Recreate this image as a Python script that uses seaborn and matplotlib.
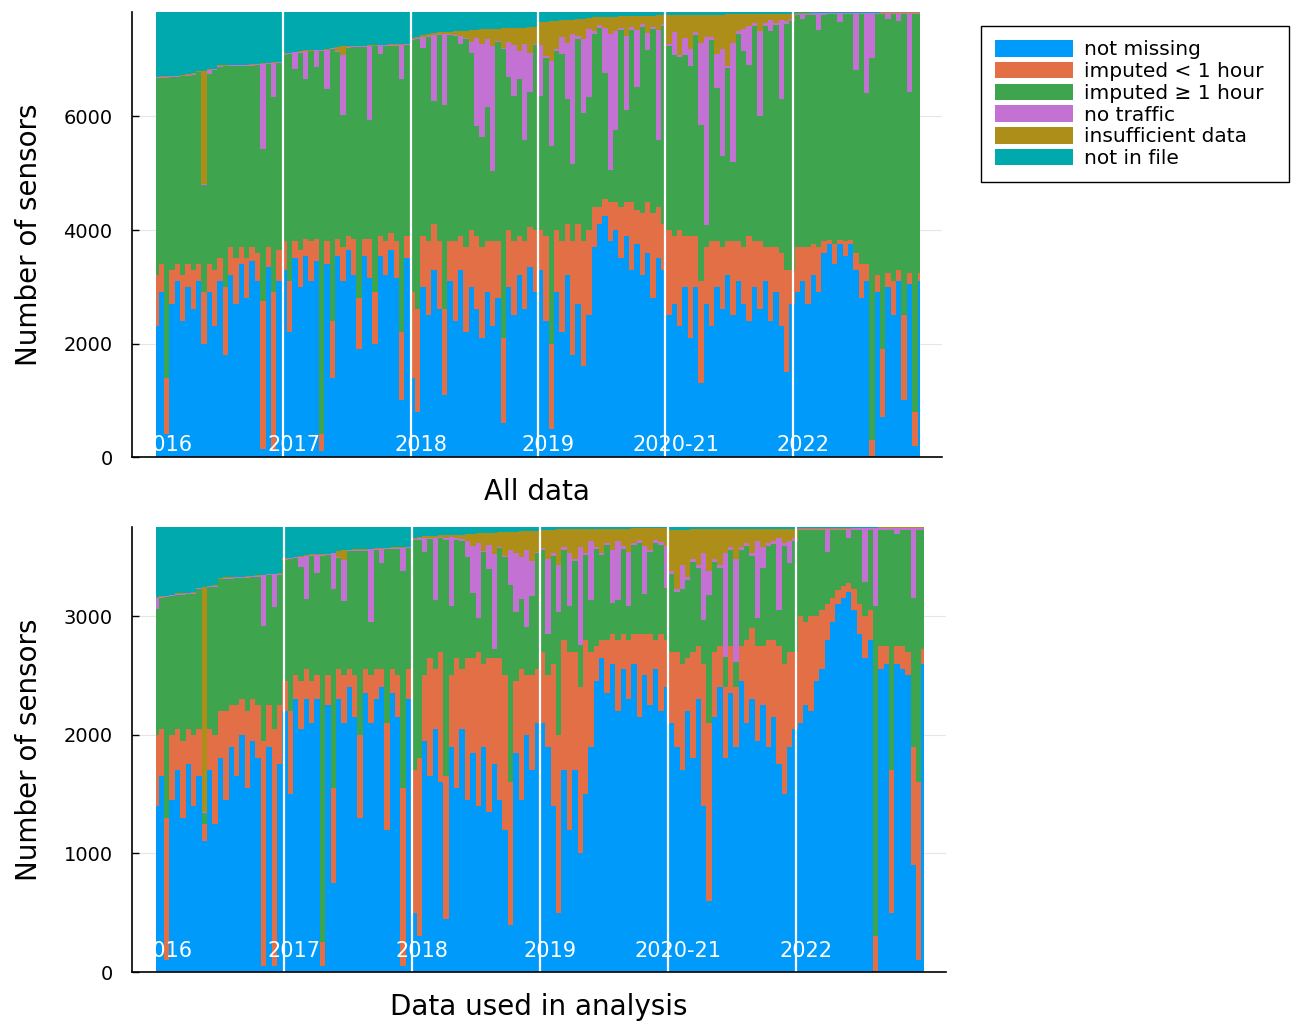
import numpy as np
import matplotlib
matplotlib.use("Agg")
import matplotlib.pyplot as plt
import seaborn as sns
from matplotlib.patches import Patch, Rectangle

sns.set_style("white")
plt.rcParams['font.family'] = ['DejaVu Sans']
plt.rcParams.update({'text.color': 'black', 'axes.labelcolor': 'black',
                     'xtick.color': 'black', 'ytick.color': 'black'})

periods = ["2016", "2017", "2018", "2019", "2020-21", "2022"]
categories = ["not missing", "imputed < 1 hour", "imputed ≥ 1 hour",
              "no traffic", "insufficient data", "not in file"]
colors = ["#009AFA", "#E36F47", "#3EA44E", "#C371D2", "#AC8E18", "#00A9AD"]

# ---- All data (24 readings per period) ----
n_sensors_all = 7840
all_not_missing = [
    2300, 2900, 400, 2700, 3100, 2400, 3000, 2600, 3100, 2000, 2900, 2300, 3100, 1800, 3200, 2700, 3400, 2800, 3450, 3100, 150, 3350, 100, 3100,
    3300, 2200, 3500, 3000, 3550, 3100, 3450, 100, 3400, 1400, 3550, 3100, 3650, 3200, 1900, 3550, 3150, 2000, 3550, 3200, 3650, 3150, 1000, 3500,
    1400, 800, 3000, 2500, 3300, 2600, 1100, 3100, 2400, 3300, 2200, 3000, 2600, 2100, 2900, 2300, 2800, 600, 3000, 2500, 3200, 2600, 3350, 2900,
    3300, 2400, 500, 2900, 2200, 3200, 1800, 2700, 1600, 2500, 3700, 4100, 4250, 3800, 4000, 3500, 3900, 3300, 3750, 3200, 3600, 2800, 3500, 3300,
    2500, 2700, 2300, 3000, 2100, 3000, 1300, 2700, 2300, 3000, 2600, 3200, 2500, 3100, 2700, 2400, 3000, 2600, 3100, 2400, 2900, 2300, 1500, 2700,
    2900, 3100, 2700, 3200, 2900, 3600, 3750, 3400, 3750, 3550, 3750, 3300, 2800, 3100, 0, 2900, 700, 3000, 2500, 3100, 1000, 3050, 200, 3100]
all_imputed_short = [
    900, 500, 1000, 600, 300, 800, 400, 700, 300, 900, 500, 1000, 400, 1200, 500, 800, 300, 700, 250, 500, 2600, 350, 2800, 550,
    500, 900, 300, 650, 300, 700, 400, 300, 400, 1000, 300, 600, 250, 650, 900, 300, 700, 900, 350, 600, 300, 650, 1200, 400,
    1500, 1800, 900, 1300, 800, 1200, 1500, 700, 1400, 600, 1500, 1000, 1300, 1600, 900, 1500, 1000, 1500, 1000, 1300, 700, 1200, 700, 1100,
    700, 1500, 1500, 1100, 1600, 900, 2000, 1400, 2200, 1500, 700, 300, 300, 700, 500, 900, 600, 1200, 600, 1100, 900, 1500, 900, 800,
    1500, 1200, 1700, 900, 1800, 900, 1800, 1000, 1500, 800, 1100, 600, 1300, 700, 1000, 1500, 800, 1200, 600, 1300, 800, 1300, 1800, 600,
    800, 600, 1000, 550, 800, 200, 80, 350, 80, 250, 80, 300, 600, 300, 300, 300, 1200, 250, 600, 200, 1500, 200, 600, 150]
all_no_traffic = [
    20, 15, 15, 15, 15, 15, 15, 15, 15, 15, 80, 15, 15, 15, 15, 15, 15, 15, 15, 15, 1500, 15, 600, 15,
    15, 15, 300, 15, 500, 15, 300, 15, 700, 15, 15, 1050, 15, 15, 15, 15, 1300, 15, 150, 15, 15, 15, 600, 15,
    20, 20, 200, 20, 1150, 20, 1250, 20, 20, 150, 20, 200, 1550, 1650, 1200, 2200, 20, 20, 600, 900, 500, 1700, 700, 20,
    900, 40, 1500, 40, 300, 1000, 2300, 40, 1300, 1200, 40, 40, 800, 2400, 1750, 40, 1300, 40, 1000, 40, 300, 40, 1950, 40,
    50, 400, 50, 300, 300, 50, 1450, 3300, 50, 600, 1900, 50, 2100, 50, 400, 700, 50, 1500, 50, 200, 50, 1400, 50, 50,
    20, 100, 20, 20, 300, 20, 20, 20, 150, 20, 20, 1000, 20, 1400, 800, 20, 20, 100, 20, 150, 20, 1400, 20, 20]
all_insufficient = [
    8, 8, 8, 8, 8, 8, 8, 8, 8, 2000, 8, 8, 8, 8, 8, 8, 8, 8, 8, 8, 8, 8, 8, 8,
    10, 10, 10, 10, 10, 10, 10, 10, 10, 10, 80, 150, 10, 10, 10, 10, 10, 10, 10, 10, 10, 10, 10, 10,
    20, 20, 30, 30, 40, 30, 50, 40, 60, 80, 120, 200, 150, 250, 180, 300, 220, 350, 250, 300, 400, 280, 450, 300,
    400, 600, 700, 500, 300, 400, 250, 300, 350, 200, 250, 150, 200, 300, 250, 200, 350, 200, 250, 150, 300, 200, 250, 150,
    500, 300, 700, 400, 600, 300, 500, 400, 400, 700, 600, 900, 500, 300, 250, 200, 150, 300, 150, 100, 150, 100, 120, 80,
    10, 10, 10, 10, 10, 10, 10, 10, 10, 10, 10, 10, 10, 10, 10, 10, 10, 10, 10, 10, 10, 10, 10, 10]
all_not_in_file = [
    1140, 1135, 1130, 1125, 1120, 1110, 1100, 1080, 1040, 1030, 1010, 1000, 940, 935, 930, 930, 925, 925, 920, 910, 900, 890, 885, 880,
    730, 720, 700, 690, 670, 668, 665, 660, 650, 630, 610, 605, 600, 595, 592, 590, 585, 580, 575, 572, 570, 565, 562, 558,
    460, 440, 404, 390, 370, 350, 345, 345, 340, 335, 330, 320, 310, 305, 300, 295, 290, 288, 286, 284, 282, 275, 265, 257,
    175, 170, 160, 150, 140, 140, 135, 130, 120, 100, 90, 85, 82, 80, 80, 78, 75, 72, 70, 68, 65, 62, 60, 58,
    55, 52, 50, 50, 48, 48, 46, 45, 45, 44, 44, 42, 42, 42, 40, 40, 40, 38, 38, 36, 36, 35, 35, 34,
    20, 18, 16, 15, 14, 13, 12, 12, 11, 10, 10, 9, 9, 8, 8, 8, 7, 7, 6, 6, 5, 5, 5, 5]

# ---- Data used in analysis ----
n_sensors_used = 3750
used_not_missing = [
    1400, 1650, 100, 1450, 1700, 1300, 1750, 1400, 1650, 1100, 1700, 1250, 1800, 1450, 1900, 1650, 2000, 1550, 1950, 1800, 50, 1900, 50, 1750,
    2200, 1500, 2300, 2050, 2300, 2100, 2300, 50, 2250, 750, 2300, 2100, 2400, 2150, 1300, 2350, 2100, 2300, 2400, 1200, 2350, 2150, 50, 2300,
    500, 300, 1950, 1650, 2050, 1600, 450, 1900, 1550, 2050, 1450, 1850, 1400, 1900, 1350, 1750, 1450, 1200, 400, 1850, 1450, 2000, 1700, 2100,
    2100, 1900, 1400, 500, 1700, 1200, 1700, 1000, 1500, 1900, 2450, 2650, 2350, 2600, 2200, 2550, 2300, 2600, 2150, 2500, 2250, 2550, 2200, 2400,
    2100, 1900, 1700, 2200, 1800, 2300, 1400, 600, 2150, 2400, 1800, 2350, 1900, 2450, 2100, 2300, 1950, 2250, 1900, 2150, 1750, 1500, 1900, 2050,
    2100, 2250, 2200, 2450, 2550, 2800, 2950, 3100, 3150, 3200, 3050, 2850, 2650, 2800, 0, 2550, 2600, 500, 2600, 2550, 2500, 900, 100, 2600]
used_imputed_short = [
    600, 400, 1200, 550, 350, 650, 300, 600, 400, 150, 350, 750, 400, 750, 350, 600, 300, 650, 350, 450, 1900, 350, 2000, 500,
    250, 700, 200, 400, 250, 350, 200, 200, 250, 800, 250, 400, 150, 350, 700, 200, 400, 250, 150, 900, 200, 350, 1500, 250,
    1200, 1500, 550, 1000, 500, 1100, 1200, 600, 1100, 500, 1200, 800, 1300, 700, 1300, 900, 1200, 1300, 1200, 600, 1100, 500, 800, 450,
    600, 600, 1200, 1500, 1100, 1500, 1000, 1400, 1300, 800, 300, 150, 450, 250, 600, 300, 500, 250, 700, 350, 600, 250, 650, 400,
    600, 800, 900, 450, 900, 450, 1200, 1500, 550, 350, 600, 400, 500, 300, 700, 600, 800, 500, 900, 650, 1000, 1100, 800, 650,
    900, 700, 800, 550, 500, 300, 200, 120, 100, 80, 180, 250, 350, 250, 300, 200, 150, 1200, 150, 200, 200, 1000, 1500, 120]
used_no_traffic = [
    100, 8, 8, 8, 8, 8, 8, 8, 8, 8, 8, 8, 8, 8, 8, 8, 8, 8, 8, 8, 430, 8, 280, 8,
    8, 8, 8, 90, 370, 8, 150, 8, 8, 300, 8, 350, 8, 8, 8, 8, 610, 8, 120, 8, 8, 8, 200, 8,
    10, 10, 120, 10, 520, 10, 10, 580, 10, 10, 130, 400, 630, 10, 200, 800, 10, 10, 300, 500, 350, 650, 300, 10,
    20, 630, 20, 400, 20, 450, 20, 830, 20, 500, 20, 20, 20, 450, 500, 20, 450, 20, 20, 400, 20, 20, 20, 350,
    25, 25, 200, 25, 25, 25, 560, 200, 25, 25, 880, 25, 870, 25, 25, 25, 650, 180, 25, 25, 600, 25, 185, 25,
    12, 12, 12, 12, 12, 200, 12, 12, 12, 80, 12, 12, 450, 12, 650, 12, 12, 12, 50, 12, 12, 590, 12, 12]
used_insufficient = [
    4, 4, 4, 4, 4, 4, 4, 4, 4, 1900, 4, 4, 4, 4, 4, 4, 4, 4, 4, 4, 4, 4, 4, 4,
    5, 5, 5, 5, 5, 5, 5, 5, 5, 5, 50, 80, 5, 5, 5, 5, 5, 5, 5, 5, 5, 5, 5, 5,
    10, 10, 15, 15, 20, 15, 25, 20, 30, 40, 60, 100, 80, 150, 100, 180, 120, 200, 150, 180, 220, 160, 250, 180,
    150, 250, 200, 300, 150, 200, 250, 150, 200, 100, 150, 200, 120, 180, 100, 150, 200, 120, 100, 150, 180, 100, 120, 150,
    350, 500, 300, 400, 250, 300, 200, 350, 250, 300, 200, 150, 250, 150, 120, 200, 100, 150, 120, 100, 80, 120, 100, 80,
    8, 8, 8, 8, 8, 8, 8, 8, 8, 8, 8, 8, 8, 8, 8, 8, 8, 8, 8, 8, 8, 8, 8, 8]
used_not_in_file = [
    590, 585, 580, 570, 560, 558, 555, 550, 510, 504, 495, 490, 430, 425, 422, 420, 418, 415, 410, 405, 400, 395, 392, 390,
    265, 260, 251, 245, 235, 231, 230, 228, 225, 215, 200, 195, 192, 189, 187, 185, 182, 180, 178, 175, 172, 170, 168, 165,
    91, 85, 74, 74, 72, 70, 70, 68, 66, 64, 60, 56, 54, 52, 50, 48, 45, 42, 40, 38, 36, 34, 32, 30,
    25, 22, 21, 20, 20, 19, 18, 18, 17, 16, 16, 15, 15, 14, 14, 13, 13, 12, 12, 12, 11, 11, 10, 10,
    22, 22, 21, 21, 20, 20, 20, 19, 19, 19, 18, 18, 18, 18, 17, 17, 17, 16, 16, 16, 15, 15, 15, 15,
    8, 7, 7, 6, 6, 6, 5, 5, 5, 5, 4, 4, 4, 4, 4, 3, 3, 3, 3, 3, 3, 2, 2, 2]


def layers(n_total, not_missing, imputed_short, no_traffic, insufficient, not_in_file):
    parts = [np.array(a, dtype=float) for a in
             (not_missing, imputed_short, no_traffic, insufficient, not_in_file)]
    # everything else is imputed >= 1 hour
    imputed_long = n_total - sum(parts)
    return [parts[0], parts[1], imputed_long, parts[2], parts[3], parts[4]]


def draw(ax, stack, ymax, yticks, xlabel, label_y):
    x = np.linspace(0, len(periods), len(stack[0]))
    ax.stackplot(x, *stack, colors=colors, linewidth=0, step='mid')
    for k in range(1, len(periods)):
        ax.axvline(k, color='white', lw=1.6)
    clip = Rectangle((0, 0), len(periods), ymax, transform=ax.transData)
    for k, p in enumerate(periods):
        t = ax.text(k + 0.08, label_y, p, color='white', fontsize=15,
                    ha='center', va='bottom', transform=ax.get_xaxis_transform())
        t.set_clip_path(clip)
    ax.set_xlim(-0.188, 6.172)
    ax.set_ylim(0, ymax)
    ax.set_xticks([])
    ax.set_yticks(yticks)
    ax.yaxis.grid(True, color='#e6e6e6', lw=0.8)
    ax.set_axisbelow(True)
    ax.tick_params(axis='y', direction='in', length=5, width=1, labelsize=14, pad=14, left=True)
    for s in ['top', 'right']:
        ax.spines[s].set_visible(False)
    for s in ['left', 'bottom']:
        ax.spines[s].set_color('black')
        ax.spines[s].set_linewidth(1.2)
    ax.set_ylabel("Number of sensors", fontsize=20, labelpad=15)
    ax.set_xlabel(xlabel, fontsize=20, labelpad=15)


fig = plt.figure(figsize=(12.93, 10.22), dpi=100)
ax1 = fig.add_axes([0.1021, 0.5528, 0.6265, 0.4354])
ax2 = fig.add_axes([0.1021, 0.0489, 0.6295, 0.4354])

draw(ax1, layers(n_sensors_all, all_not_missing, all_imputed_short, all_no_traffic,
                 all_insufficient, all_not_in_file),
     n_sensors_all, [0, 2000, 4000, 6000], "All data", 0.005)
draw(ax2, layers(n_sensors_used, used_not_missing, used_imputed_short, used_no_traffic,
                 used_insufficient, used_not_in_file),
     n_sensors_used, [0, 1000, 2000, 3000], "Data used in analysis", 0.025)

handles = [Patch(facecolor=c, edgecolor='none', label=l) for c, l in zip(colors, categories)]
fig.legend(handles=handles, loc='upper left', bbox_to_anchor=(0.7587, 0.9746),
           frameon=False, fontsize=14.5, handlelength=3.85, handleheight=0.9,
           handletextpad=0.55, labelspacing=0.12, borderpad=0.7, borderaxespad=0)
# legend box, a bit wider than the entries like the original
fig.patches.append(Rectangle((981 / 1293, 1 - 182 / 1022), 308 / 1293, 156 / 1022,
                             transform=fig.transFigure, fill=False,
                             edgecolor='black', linewidth=1.0))

fig.savefig("out.png", dpi=100)
